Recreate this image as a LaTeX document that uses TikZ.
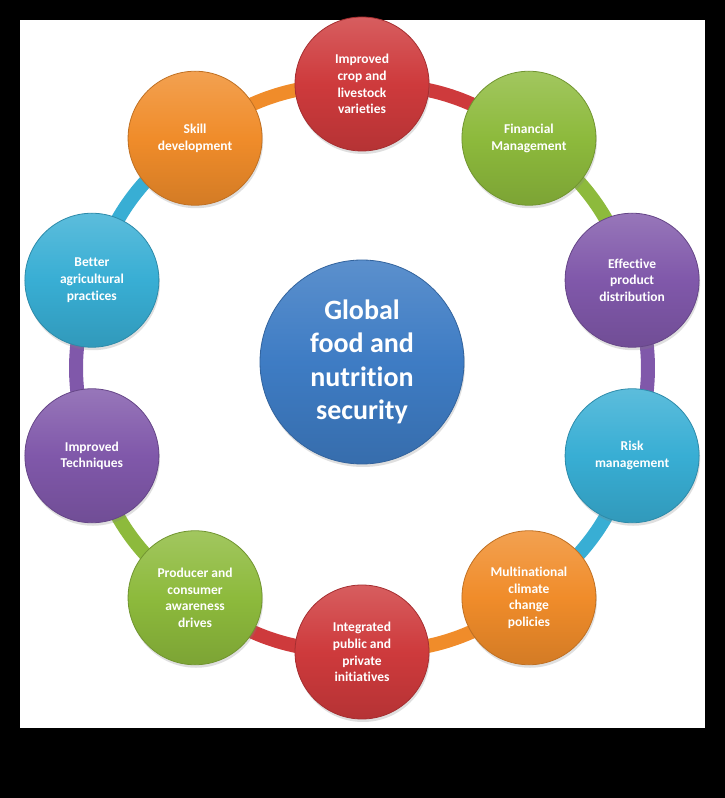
\documentclass[tikz,border=0pt]{standalone}
\usepackage{fontspec}
\setmainfont[Ligatures=NoCommon]{Carlito}
\usetikzlibrary{shadows,calc}
\pgfdeclarelayer{back}
\pgfdeclarelayer{background}
\pgfsetlayers{back,background,main}
\definecolor{cred}{RGB}{206,58,60}
\definecolor{cgreen}{RGB}{141,186,60}
\definecolor{cpurple}{RGB}{128,88,170}
\definecolor{ccyan}{RGB}{56,174,212}
\definecolor{corange}{RGB}{240,140,42}
\definecolor{cblue}{RGB}{62,124,196}
\tikzset{
  x=1pt, y=1pt,
  bubble/.style={circle, minimum size=134pt, inner sep=0pt, align=center,
    text=white, font=\fontsize{13.5}{16.8}\selectfont\bfseries,
    top color=#1!82!white, bottom color=#1!88!black, middle color=#1,
    draw=#1!80!black, line width=0.8pt,
    drop shadow={opacity=0.25, shadow xshift=1pt, shadow yshift=-3pt}},
  hub/.style={circle, minimum size=204pt, inner sep=0pt, align=center,
    text=white, font=\fontsize{28}{33.5}\selectfont\bfseries,
    top color=cblue!85!white, bottom color=cblue!88!black, middle color=cblue,
    draw=cblue!80!black, line width=0.8pt,
    drop shadow={opacity=0.25, shadow xshift=1pt, shadow yshift=-3pt}},
  link/.style={line width=14pt, draw=#1},
}
\begin{document}
\begin{tikzpicture}
\useasboundingbox (0,0) rectangle (725,798);
\begin{pgfonlayer}{back}
  \fill[black] (0,0) rectangle (725,798);
  \fill[white] (20,70) rectangle (705,778);
\end{pgfonlayer}
\coordinate (o) at (362,430);
\node[hub] (hub) at (362,436) {Global\\food and\\nutrition\\security};
\node[bubble=cred]    (n1)  at ($(o)+(90:284)$)   {Improved\\crop and\\livestock\\varieties};
\node[bubble=cgreen]  (n2)  at ($(o)+(54:284)$)   {Financial\\Management};
\node[bubble=cpurple] (n3)  at ($(o)+(18:284)$)   {Effective\\product\\distribution};
\node[bubble=ccyan]   (n4)  at ($(o)+(-18:284)$)  {Risk\\management};
\node[bubble=corange] (n5)  at ($(o)+(-54:284)$)  {Multinational\\climate\\change\\policies};
\node[bubble=cred]    (n6)  at ($(o)+(-90:284)$)  {Integrated\\public and\\private\\initiatives};
\node[bubble=cgreen]  (n7)  at ($(o)+(-126:284)$) {Producer and\\consumer\\awareness\\drives};
\node[bubble=cpurple] (n8)  at ($(o)+(-162:284)$) {Improved\\Techniques};
\node[bubble=ccyan]   (n9)  at ($(o)+(162:284)$)  {Better\\agricultural\\practices};
\node[bubble=corange] (n10) at ($(o)+(126:284)$)  {Skill\\development};
\begin{pgfonlayer}{background}
  \draw[link=cred]    (n1.center)  to[bend left=18] (n2.center);
  \draw[link=cgreen]  (n2.center)  to[bend left=18] (n3.center);
  \draw[link=cpurple] (n3.center)  to[bend left=18] (n4.center);
  \draw[link=ccyan]   (n4.center)  to[bend left=18] (n5.center);
  \draw[link=corange] (n5.center)  to[bend left=18] (n6.center);
  \draw[link=cred]    (n6.center)  to[bend left=18] (n7.center);
  \draw[link=cgreen]  (n7.center)  to[bend left=18] (n8.center);
  \draw[link=cpurple] (n8.center)  to[bend left=18] (n9.center);
  \draw[link=ccyan]   (n9.center)  to[bend left=18] (n10.center);
  \draw[link=corange] (n10.center) to[bend left=18] (n1.center);
\end{pgfonlayer}
\end{tikzpicture}
\end{document}
